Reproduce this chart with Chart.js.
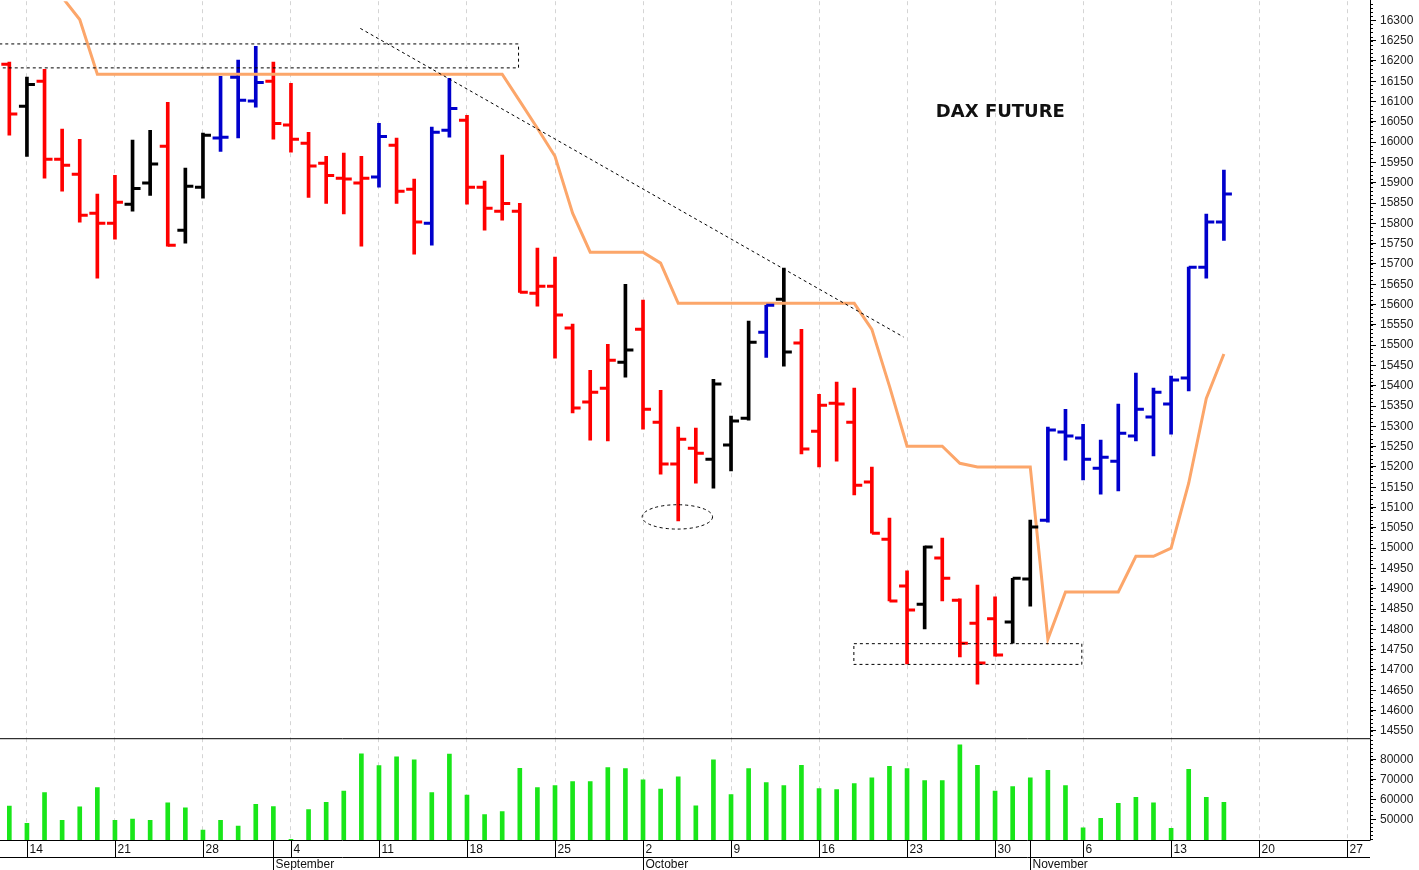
<!DOCTYPE html>
<html>
<head>
<meta charset="utf-8">
<script src="https://cdn.jsdelivr.net/npm/chart.js@4"></script>
<style>
  body { margin: 0; background: #fff; width: 1419px; height: 870px; overflow: hidden; position: relative; }
  #pwrap { position: absolute; left: 0; top: -10px; width: 1419px; height: 759px; }
  #vwrap { position: absolute; left: 0; top: 727px; width: 1419px; height: 143px; }
</style>
</head>
<body>
<div id="pwrap"><canvas id="price"></canvas></div>
<div id="vwrap"><canvas id="volume"></canvas></div>
<script>
// daily bars, index 0 = Aug 11
const opens  = [16192,16088,16150,15958,15921,15825,15800,15847,15899,15990,15783,15889,16010,16160,16101,16150,16042,15997,15948,15911,15899,15914,15992,15884,15800,16029,16054,15889,15830,15830,15628,15645,15542,15360,15394,15458,15539,15310,15207,15246,15219,15254,15320,15532,15613,15505,15288,15357,15310,15163,15022,14907,14862,14976,14872,14815,14826,14818,14924,15069,15286,15271,15197,15214,15276,15323,15355,15419,15692,15803];
const highs  = [16197,16160,16179,16032,16007,15872,15918,16005,16029,16098,15936,16022,16162,16202,16236,16197,16145,16024,15965,15973,15965,16046,16010,15909,16037,16157,16066,15904,15968,15849,15739,15717,15552,15438,15502,15650,15611,15389,15298,15296,15416,15325,15559,15598,15690,15539,15379,15409,15394,15200,15074,14944,15005,15025,14875,14909,14880,14926,15069,15298,15342,15305,15266,15355,15431,15394,15424,15692,15823,15931];
const lows   = [16017,15965,15911,15879,15803,15665,15761,15830,15869,15744,15751,15862,15977,16010,16086,16007,15975,15864,15849,15823,15744,15889,15849,15724,15746,16012,15847,15783,15808,15630,15596,15468,15333,15266,15264,15421,15293,15182,15067,15160,15148,15190,15315,15470,15448,15232,15200,15214,15131,15037,14870,14715,14801,14870,14732,14665,14734,14766,14857,15064,15217,15168,15133,15141,15264,15227,15281,15387,15665,15758];
const closes = [16069,16142,15958,15943,15820,15800,15852,15886,15946,15746,15891,16017,16012,16103,16147,16046,16007,15941,15918,15909,15911,16014,15879,15803,16024,16083,15889,15837,15849,15630,15645,15574,15345,15384,15463,15488,15342,15207,15268,15234,15404,15313,15507,15598,15483,15244,15352,15355,15155,15037,14870,14848,15003,14926,14766,14717,14737,14926,15052,15291,15276,15219,15224,15283,15342,15384,15414,15692,15803,15872];
// bar colour code per day: r = red, k = black, b = blue
const trend = ["rkrrrrrkkrkk", "bbb", "rrrrrr", "b", "rr", "bb", "rrrrrrrrr", "k", "rrrr", "kkk", "b", "k", "rrrrrrr", "k", "rrrr", "kk", "bbbbbbbbbbb"].join('');
const stopLine = [null,null,null,16357,16302,16167,16167,16167,16167,16167,16167,16167,16167,16167,16167,16167,16167,16167,16167,16167,16167,16167,16167,16167,16167,16167,16167,16167,16167,16101,16034,15965,15825,15729,15729,15729,15729,15702,15603,15603,15603,15603,15603,15603,15603,15603,15603,15603,15603,15539,15399,15251,15251,15251,15209,15200,15200,15200,15200,14776,14892,14892,14892,14892,14980,14980,15000,15160,15369,15478];
const volumes = [56600,47900,63500,49400,56300,66000,49400,50100,49400,58300,55800,44500,49400,46500,57600,56400,39800,54900,58500,64200,83100,77100,81600,80100,63500,83000,62200,52400,53900,75700,66000,67000,69000,69000,76100,75600,70000,65200,71400,56800,80100,62500,75600,68500,67000,77300,65500,65000,68000,70900,76800,75600,69500,69500,87700,77300,64200,66500,70900,74700,67000,45700,50400,58000,61100,58300,45400,75200,61100,58500];

// x axis labels (trading-day index of each Monday / first day of month)
const mondayIdx = [1,6,11,16,21,26,31,36,41,46,51,56,61,66,71,76];
const mondayLabels = ["14","21","28","4","11","18","25","2","9","16","23","30","6","13","20","27"];
const monthIdx = [15,36,58];
const monthLabels = ["September","October","November"];
const priceTicks = [];
for (let v = 14550; v <= 16300; v += 50) priceTicks.push(v);
const volTicks = [50000,60000,70000,80000];

// hand drawn annotations: [x index, price]
const topBox = [[-0.6,16243],[28.9,16184]];
const bottomBox = [[47.95,14766],[60.9,14715]];
const trendLine = [[19.94,16280],[50.8,15520]];
const lowEllipse = [37.95,15077,2.0,30];
const titlePos = [56.3,16074];

const xMin = -0.53, xMax = 77.3;
const colorOf = { r: '#ff0000', k: '#000000', b: '#0000cc' };

const barData = highs.map((h, i) => ({ x: i, y: [lows[i], h] }));
const barColors = trend.split('').map(c => colorOf[c]);

const ohlcTicks = {
    id: 'ohlcTicks',
    afterDatasetsDraw(chart) {
        const ctx = chart.ctx, xs = chart.scales.x, ys = chart.scales.y;
        ctx.save();
        ctx.lineWidth = 3;
        for (let i = 0; i < opens.length; i++) {
            const x = xs.getPixelForValue(i);
            ctx.strokeStyle = barColors[i];
            const yo = ys.getPixelForValue(opens[i]), yc = ys.getPixelForValue(closes[i]);
            ctx.beginPath();
            ctx.moveTo(x - 8, yo); ctx.lineTo(x, yo);
            ctx.moveTo(x, yc); ctx.lineTo(x + 8, yc);
            ctx.stroke();
        }
        // annotations
        ctx.strokeStyle = '#000'; ctx.lineWidth = 1; ctx.setLineDash([3, 3]);
        const P = p => [xs.getPixelForValue(p[0]), ys.getPixelForValue(p[1])];
        for (const b of [topBox, bottomBox]) {
            const a = P(b[0]), c = P(b[1]);
            ctx.strokeRect(a[0] + 0.5, a[1] + 0.5, c[0] - a[0], c[1] - a[1]);
        }
        const t0 = P(trendLine[0]), t1 = P(trendLine[1]);
        ctx.beginPath(); ctx.moveTo(t0[0], t0[1]); ctx.lineTo(t1[0], t1[1]); ctx.stroke();
        const ec = P(lowEllipse);
        const rx = xs.getPixelForValue(lowEllipse[0] + lowEllipse[2]) - ec[0];
        const ry = ys.getPixelForValue(lowEllipse[1] - lowEllipse[3]) - ec[1];
        ctx.beginPath(); ctx.ellipse(ec[0], ec[1], rx, ry, 0, 0, Math.PI * 2); ctx.stroke();
        ctx.setLineDash([]);
        const tp = P(titlePos);
        ctx.fillStyle = '#111'; ctx.font = 'bold 18px "DejaVu Sans"';
        ctx.textAlign = 'center'; ctx.textBaseline = 'middle';
        ctx.fillText('DAX FUTURE', tp[0], tp[1]);
        // axis frame + minor ticks
        const ca = chart.chartArea;
        ctx.beginPath();
        ctx.moveTo(ca.right + 0.5, 0); ctx.lineTo(ca.right + 0.5, ca.bottom);
        for (let v = 14540; v <= 16340; v += 10) {
            const y = Math.round(ys.getPixelForValue(v)) + 0.5;
            ctx.moveTo(ca.right, y); ctx.lineTo(ca.right + 3, y);
        }
        ctx.stroke();
        ctx.restore();
    }
};

const xGrid = {
    type: 'linear', min: xMin, max: xMax, offset: false,
    afterBuildTicks: s => { s.ticks = mondayIdx.map(v => ({ value: v })); },
    ticks: { display: false },
    grid: { color: '#d4d4d4', drawTicks: false, offset: false },
    border: { display: false, dash: [4, 4] },
    afterFit: s => { s.height = 0; }
};

new Chart(document.getElementById('price'), {
    type: 'bar',
    data: {
        datasets: [
            { type: 'line', data: stopLine.map((v, i) => ({ x: i, y: v })), borderColor: '#fca66a', borderWidth: 3, pointRadius: 0, tension: 0, spanGaps: false, order: 0 },
            { data: barData, backgroundColor: barColors, barThickness: 3, order: 1 }
        ]
    },
    options: {
        responsive: true, maintainAspectRatio: false, animation: false,
        layout: { padding: 0 },
        plugins: { legend: { display: false }, tooltip: { enabled: false } },
        scales: {
            x: xGrid,
            y: {
                position: 'right', min: 14533, max: 16347,
                afterBuildTicks: s => { s.ticks = priceTicks.map(v => ({ value: v })); },
                afterFit: s => { s.width = 49; },
                ticks: { color: '#222', font: { family: 'Liberation Sans', size: 12 }, padding: 4, callback: v => String(v) },
                grid: { drawOnChartArea: false, color: '#000', tickLength: 6 },
                border: { display: false }
            }
        }
    },
    plugins: [ohlcTicks]
});

const dateRows = {
    id: 'dateRows',
    afterDraw(chart) {
        const ctx = chart.ctx, xs = chart.scales.x, ca = chart.chartArea;
        ctx.save();
        ctx.strokeStyle = '#000'; ctx.lineWidth = 1;
        const r1 = ca.bottom + 0.5, r2 = ca.bottom + 17.5, r3 = chart.height;
        ctx.beginPath();
        ctx.moveTo(0, ca.top + 0.5); ctx.lineTo(ca.right, ca.top + 0.5);
        ctx.moveTo(0, r1); ctx.lineTo(ca.right, r1);
        ctx.moveTo(0, r2); ctx.lineTo(ca.right, r2);
        ctx.moveTo(ca.right + 0.5, ca.top); ctx.lineTo(ca.right + 0.5, r1);
        ctx.fillStyle = '#111'; ctx.font = '12px "Liberation Sans"'; ctx.textBaseline = 'middle';
        mondayIdx.forEach((v, i) => {
            const x = Math.round(xs.getPixelForValue(v)) + 0.5;
            ctx.moveTo(x, r1); ctx.lineTo(x, r2);
            ctx.fillText(mondayLabels[i], x + 2, (r1 + r2) / 2 + 1);
        });
        monthIdx.forEach((v, i) => {
            const x = Math.round(xs.getPixelForValue(v)) + 0.5;
            ctx.moveTo(x, r1); ctx.lineTo(x, r3);
            ctx.fillText(monthLabels[i], x + 2, (r2 + r3) / 2 + 1);
        });
        const ys = chart.scales.y;
        for (let v = 40000; v <= 90000; v += 2000) {
            const y = Math.round(ys.getPixelForValue(v)) + 0.5;
            ctx.moveTo(ca.right, y); ctx.lineTo(ca.right + 3, y);
        }
        ctx.stroke();
        ctx.restore();
    }
};

new Chart(document.getElementById('volume'), {
    type: 'bar',
    data: {
        datasets: [{ data: volumes.map((v, i) => ({ x: i, y: v })), backgroundColor: '#19e619', barThickness: 4 }]
    },
    options: {
        responsive: true, maintainAspectRatio: false, animation: false,
        layout: { padding: { top: 10 } },
        plugins: { legend: { display: false }, tooltip: { enabled: false } },
        scales: {
            x: Object.assign({}, xGrid, { afterFit: s => { s.height = 30; } }),
            y: {
                position: 'right', min: 39500, max: 91000,
                afterBuildTicks: s => { s.ticks = volTicks.map(v => ({ value: v })); },
                afterFit: s => { s.width = 49; },
                ticks: { color: '#222', font: { family: 'Liberation Sans', size: 12 }, padding: 4, callback: v => String(v) },
                grid: { drawOnChartArea: false, color: '#000', tickLength: 6 },
                border: { display: false }
            }
        }
    },
    plugins: [dateRows]
});
</script>
</body>
</html>
